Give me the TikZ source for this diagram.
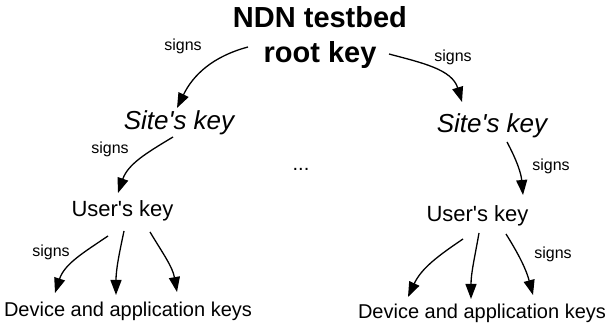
\documentclass[tikz,border=0pt]{standalone}
\usepackage{fontspec}
\setmainfont{Liberation Sans}
\usepackage{tikz}
\usetikzlibrary{arrows.meta,calc,positioning}

\begin{document}
\begin{tikzpicture}[
    x=1pt, y=1pt,
    keytext/.style={inner sep=0pt, anchor=base},
    rootkey/.style={inner sep=0pt, align=center, font=\fontsize{29}{35}\selectfont\bfseries},
    sitekey/.style={keytext, font=\fontsize{26}{30}\selectfont\itshape},
    userkey/.style={keytext, font=\fontsize{22}{26}\selectfont},
    devkey/.style={keytext, font=\fontsize{20}{24}\selectfont},
    signlbl/.style={inner sep=0pt, font=\fontsize{16}{18}\selectfont},
    sig/.style={line width=1.3pt, -{Triangle[length=15pt,width=11pt]}}
]
    \useasboundingbox (0,0) rectangle (607,331);

    % Key hierarchy
    \node[rootkey] (root) at (320,293) {NDN testbed\\root key};
    \node[sitekey] (siteL) at (179,201) {Site\textquotesingle s key};
    \node[sitekey] (siteR) at (492,198) {Site\textquotesingle s key};
    \node[userkey] (userL) at (122.5,114) {User\textquotesingle s key};
    \node[userkey] (userR) at (477.5,109) {User\textquotesingle s key};
    \node[devkey] (devL) at (128,14) {Device and application keys};
    \node[devkey] (devR) at (482,12) {Device and application keys};
    \node[devkey] (dots) at (301,160.5) {...};

    % Labels
    \node[signlbl] (sgn1) at (183,285) {signs};
    \node[signlbl] (sgn2) at (453,274) {signs};
    \node[signlbl] (sgn3) at (110,182) {signs};
    \node[signlbl] (sgn4) at (551,165) {signs};
    \node[signlbl] (sgn5) at (51,79) {signs};
    \node[signlbl] (sgn6) at (553,77) {signs};

    % Root to sites
    \draw[sig] ($(root.center)+(-72,-9)$) to[out=195,in=64] ($(siteL.base)+(-2,22)$);
    \draw[sig] ($(root.center)+(69,-16)$) to[out=-15,in=107] ($(siteR.base)+(-30,31)$);

    % Sites to users
    \draw[sig] ($(siteL.base)+(-6,-7)$) to[out=211,in=71] ($(userL.base)+(-4.5,24)$);
    \draw[sig] ($(siteR.base)+(15,-9)$) to[out=-62,in=95] ($(userR.base)+(45.5,27)$);

    % Users to devices
    \draw[sig] ($(userL.base)+(-14.5,-19)$) to[out=214,in=72] ($(devL.base)+(-73,24)$);
    \draw[sig] ($(userL.base)+(1.5,-14)$) to[out=258,in=90] ($(devL.base)+(-12,22)$);
    \draw[sig] ($(userL.base)+(27.5,-15)$) to[out=-59,in=100] ($(devL.base)+(49,25)$);
    \draw[sig] ($(userR.base)+(-14.5,-17)$) to[out=214,in=65] ($(devR.base)+(-74,22)$);
    \draw[sig] ($(userR.base)+(1.5,-11)$) to[out=260,in=90] ($(devR.base)+(-11,20)$);
    \draw[sig] ($(userR.base)+(28.5,-12)$) to[out=-58,in=105] ($(devR.base)+(51,24)$);

\end{tikzpicture}
\end{document}
